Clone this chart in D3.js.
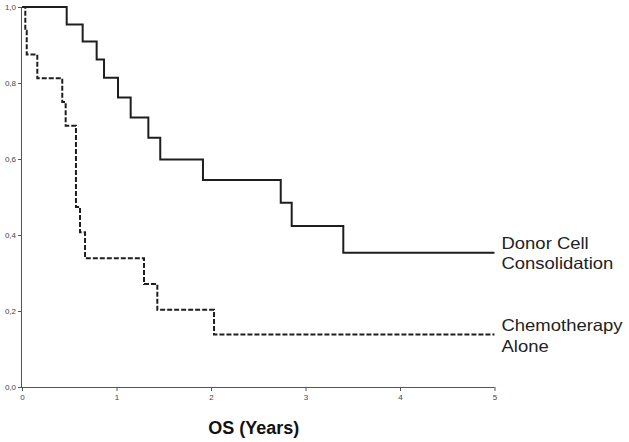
<!DOCTYPE html>
<html>
<head>
<meta charset="utf-8">
<script src="https://cdn.jsdelivr.net/npm/d3@7"></script>
<style>
  html, body { margin: 0; padding: 0; background: #fff; }
  svg { display: block; }
</style>
</head>
<body>
<svg id="chart" width="629" height="442"></svg>
<script>
// Kaplan-Meier step data (time in years, survival proportion)
const donorTimes  = [0, 0.473, 0.642, 0.790, 0.868, 1.016, 1.150, 1.337, 1.463, 1.915, 2.738, 2.854, 3.400, 5.0];
const donorValues = [1.0, 0.954, 0.909, 0.862, 0.814, 0.762, 0.709, 0.656, 0.599, 0.545, 0.485, 0.424, 0.353, 0.353];

const chemoTimes  = [0, 0.035, 0.050, 0.162, 0.426, 0.462, 0.571, 0.614, 0.667, 1.291, 1.432, 2.032, 5.0];
const chemoValues = [1.0, 0.9375, 0.875, 0.8125, 0.750, 0.6875, 0.474, 0.407, 0.339, 0.271, 0.203, 0.138, 0.138];

const xTicks = [0, 1, 2, 3, 4, 5];
const yTicks = [0, 0.2, 0.4, 0.6, 0.8, 1.0];
const seriesLabels = [["Donor Cell", "Consolidation"], ["Chemotherapy", "Alone"]];
const xTitle = "OS (Years)";

const svg = d3.select("#chart");
const x = d3.scaleLinear().domain([0, 5]).range([22, 494.5]);
const y = d3.scaleLinear().domain([0, 1]).range([387, 7]);

const axisColor = "#555";
const fmt = d => d3.format(".1f")(d).replace(".", ",");

// Y axis
const yAxis = svg.append("g").attr("transform", "translate(22,0)")
  .call(d3.axisLeft(y).tickValues(yTicks).tickFormat(fmt).tickSize(4).tickPadding(2));
// X axis
const xAxis = svg.append("g").attr("transform", "translate(0,387)")
  .call(d3.axisBottom(x).tickValues(xTicks).tickFormat(d3.format("d")).tickSize(4).tickPadding(3));

[yAxis, xAxis].forEach(g => {
  g.select(".domain").attr("stroke", axisColor).attr("stroke-width", 1);
  g.selectAll(".tick line").attr("stroke", axisColor);
  g.selectAll(".tick text").attr("fill", "#444")
    .style("font-family", "'Liberation Sans', Arial, sans-serif").style("font-size", "8px");
});
yAxis.select(".domain").attr("d", `M-0.5,${y(0)}V${y(1)}`);
xAxis.select(".domain").attr("d", `M${x(0)},0.5H${x(5)}`);

const line = d3.line().x(d => x(d[0])).y(d => y(d[1])).curve(d3.curveStepAfter);

svg.append("path")
  .datum(d3.zip(donorTimes, donorValues))
  .attr("d", line)
  .attr("fill", "none").attr("stroke", "#1e1e1e").attr("stroke-width", 2);

svg.append("path")
  .datum(d3.zip(chemoTimes, chemoValues))
  .attr("d", line)
  .attr("fill", "none").attr("stroke", "#1e1e1e").attr("stroke-width", 2)
  .attr("stroke-dasharray", "5,2");

// Series labels
const labelFont = "'Liberation Sans', Arial, sans-serif";
const labelY = [[249.3, 269], [331, 351.5]];
seriesLabels.forEach((lines, i) => {
  lines.forEach((t, j) => {
    svg.append("text")
      .attr("transform", `translate(501.5,${labelY[i][j]}) scale(1.12,1)`)
      .attr("fill", "#222")
      .style("font-family", labelFont).style("font-size", "16.5px")
      .text(t);
  });
});

// X title
svg.append("text")
  .attr("x", 253.7).attr("y", 434)
  .attr("text-anchor", "middle")
  .attr("fill", "#111")
  .style("font-family", labelFont).style("font-size", "18px").style("font-weight", "bold")
  .text(xTitle);
</script>
</body>
</html>
